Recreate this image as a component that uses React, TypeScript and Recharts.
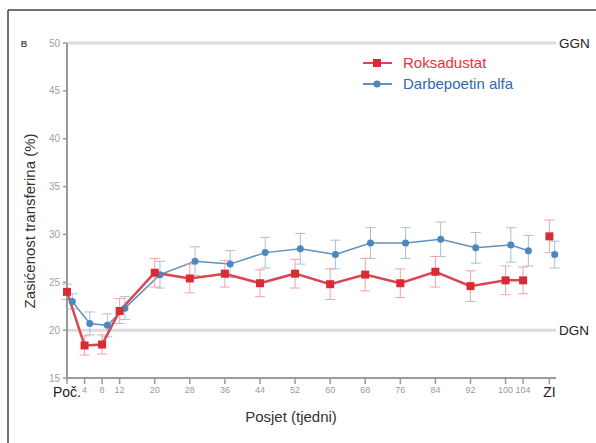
import React from 'react';
import { ComposedChart, Line, XAxis, YAxis, ReferenceLine, ErrorBar, Legend } from 'recharts';

const weeks = [0, 4, 8, 12, 20, 28, 36, 44, 52, 60, 68, 76, 84, 92, 100, 104];
const endWeek = 110;
const tickValues = [0, 4, 8, 12, 20, 28, 36, 44, 52, 60, 68, 76, 84, 92, 100, 104, 110];
const tickLabels = ['Poč.', '4', '8', '12', '20', '28', '36', '44', '52', '60', '68', '76', '84', '92', '100', '104', 'ZI'];
const yTicks = [15, 20, 25, 30, 35, 40, 45, 50];

const roxMean = [24.0, 18.4, 18.5, 22.0, 26.0, 25.4, 25.9, 24.9, 25.9, 24.8, 25.8, 24.9, 26.1, 24.6, 25.2, 25.2];
const roxErr = [0.8, 1.0, 1.0, 1.3, 1.5, 1.5, 1.4, 1.4, 1.5, 1.6, 1.7, 1.5, 1.6, 1.6, 1.5, 1.4];
const roxEnd = 29.8;
const roxEndErr = 1.7;

const darbMean = [23.0, 20.7, 20.5, 22.3, 25.8, 27.2, 26.9, 28.1, 28.5, 27.9, 29.1, 29.1, 29.5, 28.6, 28.9, 28.3];
const darbErr = [0.8, 1.2, 1.2, 1.2, 1.4, 1.5, 1.4, 1.6, 1.6, 1.5, 1.6, 1.6, 1.8, 1.6, 1.8, 1.6];
const darbEnd = 27.9;
const darbEndErr = 1.4;
const darbOffset = 1.2;

const ULN = 50;
const LLN = 20;

const roxData = weeks.map((w, i) => ({ x: w, y: roxMean[i], e: roxErr[i] }));
const roxEndData = [{ x: endWeek, y: roxEnd, e: roxEndErr }];
const darbData = weeks.map((w, i) => ({ x: w + darbOffset, y: darbMean[i], e: darbErr[i] }));
const darbEndData = [{ x: endWeek + darbOffset, y: darbEnd, e: darbEndErr }];

const RED = '#d92b35';
const RED_LINE = '#dc4550';
const RED_ERR = '#f2a3a6';
const BLUE = '#4a88bf';
const BLUE_LINE = '#5f92bd';
const BLUE_ERR = '#a9c0d6';
const FONT = '"Liberation Sans", Arial, sans-serif';

const RedSquare = (props: any) => {
  const { cx, cy } = props;
  if (cx == null || cy == null) return null;
  return <rect x={cx - 4} y={cy - 4} width={8} height={8} fill={RED} />;
};

const BlueDot = (props: any) => {
  const { cx, cy } = props;
  if (cx == null || cy == null) return null;
  return <circle cx={cx} cy={cy} r={3.5} fill={BLUE} />;
};

const XTick = (props: any) => {
  const { x, y, payload } = props;
  const idx = tickValues.indexOf(payload.value);
  const label = idx >= 0 ? tickLabels[idx] : String(payload.value);
  const big = idx === 0 || idx === tickValues.length - 1;
  return (
    <text
      x={x}
      y={y}
      dy={big ? '0.7em' : '0.71em'}
      textAnchor="middle"
      fontFamily={FONT}
      fontSize={big ? 14 : 9}
      fill={big ? '#222' : '#9a9a9a'}
    >
      {label}
    </text>
  );
};

const LegendContent = () => {
  const items = [
    { name: 'Roksadustat', color: '#e8333b', line: RED_LINE, marker: 'square', mc: RED },
    { name: 'Darbepoetin alfa', color: '#2e6bb4', line: BLUE_LINE, marker: 'circle', mc: BLUE },
  ];
  return (
    <div style={{ fontFamily: FONT }}>
      {items.map((it) => (
        <div key={it.name} style={{ display: 'flex', alignItems: 'center', height: 21 }}>
          <svg width={36} height={14} style={{ marginRight: 5 }}>
            <line x1={1} y1={7} x2={30} y2={7} stroke={it.line} strokeWidth={2} />
            {it.marker === 'square' ? (
              <rect x={11} y={3} width={8} height={8} fill={it.mc} />
            ) : (
              <circle cx={15} cy={7} r={3.5} fill={it.mc} />
            )}
          </svg>
          <span style={{ color: it.color, fontSize: 15 }}>{it.name}</span>
        </div>
      ))}
    </div>
  );
};

export default function App() {
  return (
    <div style={{ position: 'absolute', left: 0, top: 0, width: 596, height: 443, overflow: 'hidden', background: '#fff' }}>
      <svg width={596} height={443} style={{ position: 'absolute', left: 0, top: 0 }}>
        <line x1={8} y1={10} x2={596} y2={10} stroke="#444" strokeWidth={1.5} />
        <line x1={8} y1={10} x2={8} y2={443} stroke="#444" strokeWidth={1.5} />
        <text x={24} y={47} fontFamily={FONT} fontSize={9} fontWeight="bold" fill="#555" textAnchor="middle">B</text>
        <text
          x={0}
          y={0}
          transform="translate(35,221) rotate(-90)"
          textAnchor="middle"
          fontFamily={FONT}
          fontSize={15}
          fill="#333"
        >
          Zasićenost transferina (%)
        </text>
        <text x={291} y={422} textAnchor="middle" fontFamily={FONT} fontSize={15} fill="#333">
          Posjet (tjedni)
        </text>
      </svg>
      <div style={{ position: 'absolute', left: 0, top: 0 }}>
        <ComposedChart width={596} height={443} margin={{ top: 43, right: 40, bottom: 0, left: 0 }}>
          <XAxis
            dataKey="x"
            type="number"
            domain={[0, 111.5]}
            ticks={tickValues}
            interval={0}
            tick={<XTick />}
            tickSize={6}
            tickMargin={3}
            height={65}
            axisLine={{ stroke: '#9a9a9a', strokeWidth: 2 }}
            tickLine={{ stroke: '#9a9a9a', strokeWidth: 1.5 }}
            allowDuplicatedCategory={false}
          />
          <YAxis
            type="number"
            domain={[15, 50]}
            ticks={yTicks}
            interval={0}
            width={67}
            tickSize={4}
            tickMargin={3}
            tick={{ fontSize: 10, fill: '#a0a0a0', fontFamily: FONT }}
            axisLine={{ stroke: '#9a9a9a', strokeWidth: 2 }}
            tickLine={{ stroke: '#9a9a9a', strokeWidth: 1.5 }}
          />
          <ReferenceLine
            y={ULN}
            stroke="#dcdcdc"
            strokeWidth={3}
            segment={[{ x: 0, y: ULN }, { x: endWeek, y: ULN }]}
            label={{ value: 'GGN', position: 'right', offset: 3, fill: '#222', fontSize: 13.5, fontFamily: FONT }}
          />
          <ReferenceLine
            y={LLN}
            stroke="#dcdcdc"
            strokeWidth={3}
            segment={[{ x: 12, y: LLN }, { x: endWeek, y: LLN }]}
            label={{ value: 'DGN', position: 'right', offset: 3, fill: '#222', fontSize: 13.5, fontFamily: FONT }}
          />
          <Line
            data={darbData}
            dataKey="y"
            name="Darbepoetin alfa"
            stroke={BLUE_LINE}
            strokeWidth={1.5}
            dot={<BlueDot />}
            activeDot={false}
            isAnimationActive={false}
          >
            <ErrorBar dataKey="e" width={5} stroke={BLUE_ERR} strokeWidth={1} />
          </Line>
          <Line
            data={darbEndData}
            dataKey="y"
            name="Darbepoetin alfa ZI"
            legendType="none"
            stroke={BLUE_LINE}
            strokeWidth={1.5}
            dot={<BlueDot />}
            activeDot={false}
            isAnimationActive={false}
          >
            <ErrorBar dataKey="e" width={5} stroke={BLUE_ERR} strokeWidth={1} />
          </Line>
          <Line
            data={roxData}
            dataKey="y"
            name="Roksadustat"
            stroke={RED_LINE}
            strokeWidth={2.5}
            dot={<RedSquare />}
            activeDot={false}
            isAnimationActive={false}
          >
            <ErrorBar dataKey="e" width={5} stroke={RED_ERR} strokeWidth={1} />
          </Line>
          <Line
            data={roxEndData}
            dataKey="y"
            name="Roksadustat ZI"
            legendType="none"
            stroke={RED_LINE}
            strokeWidth={2.5}
            dot={<RedSquare />}
            activeDot={false}
            isAnimationActive={false}
          >
            <ErrorBar dataKey="e" width={5} stroke={RED_ERR} strokeWidth={1} />
          </Line>
          <Legend
            layout="vertical"
            align="center"
            verticalAlign="middle"
            content={<LegendContent />}
            wrapperStyle={{ left: 362, top: 52, width: 200, height: 44 }}
          />
        </ComposedChart>
      </div>
    </div>
  );
}
